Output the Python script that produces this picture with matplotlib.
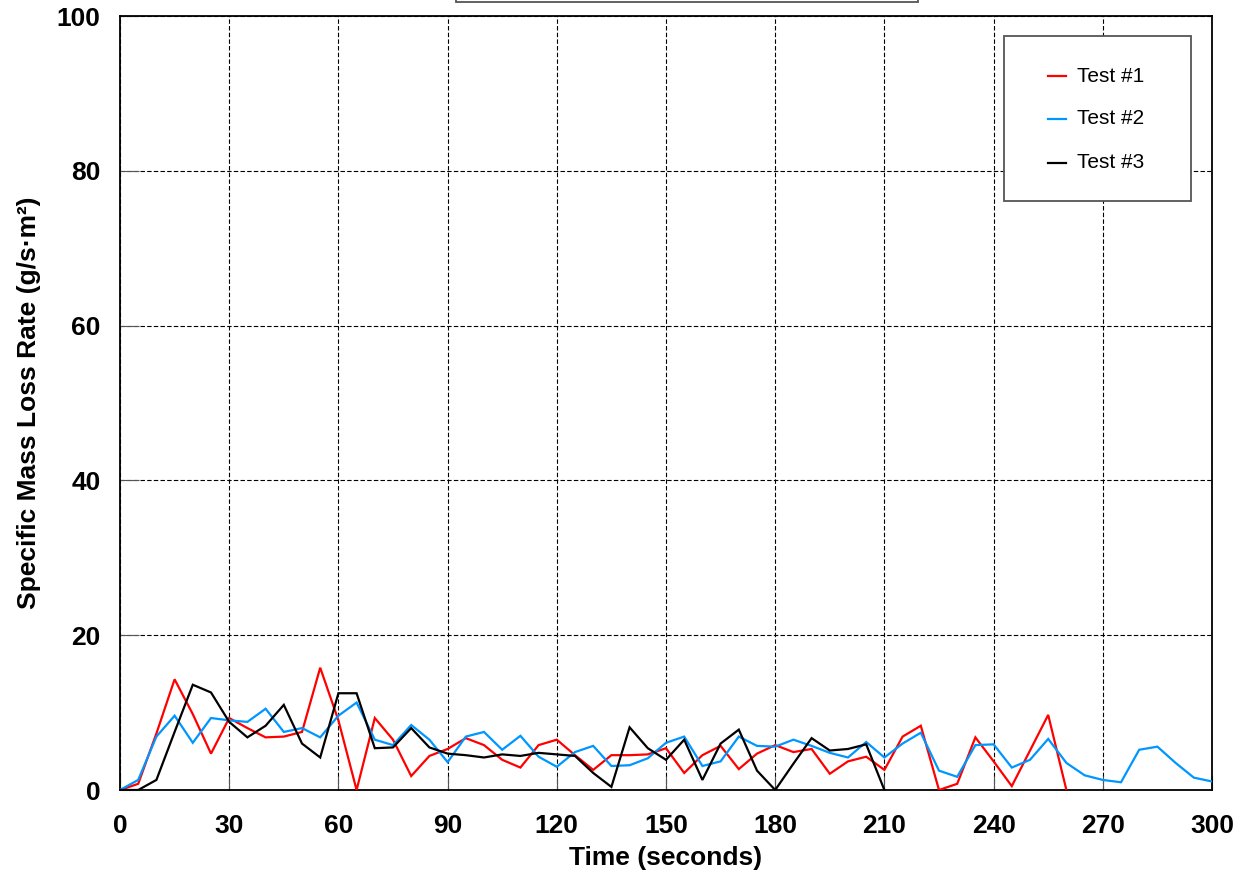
import matplotlib
matplotlib.use("Agg")
import matplotlib.pyplot as plt
from matplotlib.patches import Rectangle
from matplotlib.lines import Line2D

plt.rcParams['font.family'] = ['Liberation Sans', 'DejaVu Sans']

time_1 = list(range(0, 261, 5))
test_1 = [0, 0.8, 7.3, 14.3, 9.8, 4.7, 9.3, 8.0, 6.8, 6.9, 7.5, 15.8, 9.0, 0, 9.3, 6.5,
          1.8, 4.4, 5.3, 6.7, 5.8, 3.9, 2.9, 5.8, 6.5, 4.5, 2.6, 4.5, 4.5, 4.6, 5.4, 2.2,
          4.5, 5.7, 2.7, 4.7, 5.8, 4.9, 5.3, 2.1, 3.7, 4.3, 2.6, 6.9, 8.3, 0, 0.8, 6.8,
          3.7, 0.5, 5.1, 9.7, 0]

time_2 = list(range(0, 301, 5))
test_2 = [0, 1.3, 6.9, 9.6, 6.1, 9.3, 9.0, 8.8, 10.5, 7.5, 8.0, 6.8, 9.6, 11.3, 6.5, 5.8,
          8.4, 6.5, 3.6, 6.9, 7.5, 5.2, 7.0, 4.3, 3.0, 4.9, 5.7, 3.1, 3.2, 4.1, 6.1, 6.9,
          3.1, 3.7, 6.9, 5.7, 5.6, 6.5, 5.7, 4.8, 4.2, 6.2, 4.2, 6.0, 7.4, 2.5, 1.7, 5.8,
          5.9, 2.9, 3.9, 6.6, 3.5, 1.9, 1.3, 1.0, 5.2, 5.6, 3.5, 1.6, 1.1]

time_3 = list(range(0, 211, 5))
test_3 = [0, 0, 1.3, 7.5, 13.6, 12.6, 8.8, 6.8, 8.3, 11.0, 6.0, 4.2, 12.5, 12.5, 5.4, 5.5,
          8.0, 5.5, 4.7, 4.5, 4.2, 4.6, 4.4, 4.8, 4.6, 4.4, 2.2, 0.4, 8.1, 5.4, 3.9, 6.5,
          1.3, 6.0, 7.8, 2.5, 0, 3.4, 6.7, 5.1, 5.3, 5.9, 0]

labels = ["Test #1", "Test #2", "Test #3"]
colors = ["#ff0000", "#0096ff", "#000000"]
x_ticks = list(range(0, 301, 30))
y_ticks = list(range(0, 101, 20))

W, H = 1238, 876
fig = plt.figure(figsize=(W / 100, H / 100), dpi=100)
ax = fig.add_axes([120 / W, (H - 790) / H, 1092 / W, 774 / H])

for t, v, c, lab in zip([time_1, time_2, time_3], [test_1, test_2, test_3], colors, labels):
    ax.plot(t, v, color=c, lw=1.6, label=lab, solid_joinstyle='miter', zorder=3)

ax.set_xlim(0, 300)
ax.set_ylim(0, 100)
ax.set_xticks(x_ticks)
ax.set_yticks(y_ticks)
ax.grid(True, color='black', linestyle=(0, (4, 2)), linewidth=0.8)
for s in ax.spines.values():
    s.set_linewidth(1.3)
ax.tick_params(axis='both', direction='in', labelsize=19, color='#555555')
ax.tick_params(axis='x', length=10, pad=17)
ax.tick_params(axis='y', length=14, pad=14)
for lbl in ax.get_xticklabels() + ax.get_yticklabels():
    lbl.set_fontweight('bold')

ax.set_xlabel("Time (seconds)", fontsize=19, fontweight='bold', labelpad=6)
ax.set_ylabel("Specific Mass Loss Rate (g/s·m²)", fontsize=19, fontweight='bold', labelpad=11)

# legend box
fig.patches.append(Rectangle((1004 / W, (H - 201) / H), 187 / W, 165 / H,
                             transform=fig.transFigure, facecolor='white',
                             edgecolor='#555555', lw=1.3, zorder=5))
ys = [76, 119, 163]
for yy, c, lab in zip(ys, colors, labels):
    fig.lines.append(Line2D([1048 / W, 1066 / W], [(H - yy) / H] * 2, color=c, lw=1.6,
                            transform=fig.transFigure, zorder=6))
    fig.text(1077 / W, (H - yy) / H, lab, fontsize=15, va='center', ha='left', zorder=6)

# empty title box at top (clipped)
fig.patches.append(Rectangle((456 / W, (H - 2) / H), 462 / W, 40 / H,
                             transform=fig.transFigure, facecolor='white',
                             edgecolor='#555555', lw=1.3, zorder=5, clip_on=False))

fig.savefig("out.png", dpi=100)
